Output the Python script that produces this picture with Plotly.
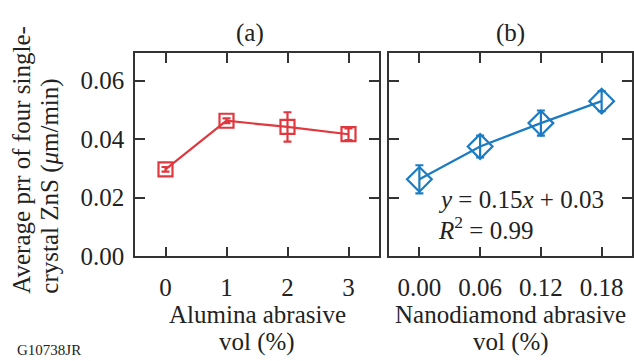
import plotly.graph_objects as go

# Data
alumina_x = [0, 1, 2, 3]
alumina_y = [0.0297, 0.0463, 0.0442, 0.0417]
alumina_err = [0.0008, 0.0008, 0.0050, 0.0020]

nano_x = [0.00, 0.06, 0.12, 0.18]
nano_y = [0.0263, 0.0375, 0.0455, 0.0530]
nano_err = [0.0048, 0.0037, 0.0043, 0.0034]

a_ticks = [0, 1, 2, 3]
b_ticks = [0.00, 0.06, 0.12, 0.18]
b_ticklabels = ["0.00", "0.06", "0.12", "0.18"]
y_ticks = [0.00, 0.02, 0.04, 0.06]
y_ticklabels = ["0.00", "0.02", "0.04", "0.06"]

RED = "#e0383e"
BLUE = "#1c7cc3"
FONT = "Liberation Serif"
W, H = 634, 374
REF_H = 361

def px(x):
    return x / W

def py(y):
    return 1 - y / REF_H

fig = go.Figure()
fig.add_trace(go.Scatter(
    x=alumina_x, y=alumina_y, mode="lines+markers",
    line=dict(color=RED, width=2.2),
    marker=dict(symbol="square-open", size=14, color=RED, line=dict(width=2.2, color=RED)),
    error_y=dict(type="data", array=alumina_err, color=RED, thickness=2.2, width=4),
    xaxis="x", yaxis="y", showlegend=False))
fig.add_trace(go.Scatter(
    x=nano_x, y=nano_y, mode="lines+markers",
    line=dict(color=BLUE, width=2.2),
    marker=dict(symbol="diamond-open", size=19, color=BLUE, line=dict(width=2.2, color=BLUE)),
    error_y=dict(type="data", array=nano_err, color=BLUE, thickness=2.2, width=4),
    xaxis="x2", yaxis="y2", showlegend=False))

axis_common = dict(showline=True, linecolor="#333", linewidth=1.5, mirror="ticks",
                   ticks="inside", ticklen=10, tickwidth=1.5, tickcolor="#333",
                   showgrid=False, zeroline=False,
                   tickfont=dict(family=FONT, size=25, color="#222"))

fig.update_layout(
    width=W, height=H, margin=dict(l=0, r=0, t=0, b=0),
    paper_bgcolor="white", plot_bgcolor="white",
    font=dict(family=FONT, size=25, color="#222"),
    xaxis=dict(domain=[px(135), px(379)], range=[-0.5, 3.5], tickvals=a_ticks,
               ticklabelstandoff=8, anchor="y", **axis_common),
    yaxis=dict(domain=[py(257), py(53)], range=[0, 0.0695], tickvals=y_ticks,
               ticktext=y_ticklabels, ticklabelstandoff=4, anchor="x", **axis_common),
    xaxis2=dict(domain=[px(389), px(632)], range=[-0.03, 0.21], tickvals=b_ticks,
                ticktext=b_ticklabels, ticklabelstandoff=8, anchor="y2", **axis_common),
    yaxis2=dict(domain=[py(257), py(53)], range=[0, 0.0695], tickvals=y_ticks,
                showticklabels=False, anchor="x2", **axis_common),
)

ann = []
def add(text, x, y, xanchor="center", yanchor="middle", size=25, angle=0, align="center"):
    ann.append(dict(text=text, x=px(x), y=py(y), xref="paper", yref="paper",
                    xanchor=xanchor, yanchor=yanchor, showarrow=False, textangle=angle,
                    align=align, font=dict(family=FONT, size=size, color="#222")))

add("(a)", 250, 33)
add("(b)", 510, 33)
add("Alumina abrasive", 257, 315)
add("vol (%)", 257, 343)
add("Nanodiamond abrasive", 510, 315)
add("vol (%)", 511, 343)
add("<i>y</i> = 0.15<i>x</i> + 0.03", 436, 200, xanchor="left")
add("<i>R</i><sup>2</sup> = 0.99", 436, 229, xanchor="left")
add("Average prr of four single-", 22, 297, yanchor="bottom", angle=-90)
add("crystal ZnS (<i>μ</i>m/min)", 50, 297, yanchor="bottom", angle=-90)
add("G10738JR", 15, 361, xanchor="left", yanchor="bottom", size=15)
fig.update_layout(annotations=ann)

post = ("document.documentElement.style.margin='0';"
        "document.body.style.margin='0';document.body.style.overflow='hidden';")

fig.write_html("out.html", config={"displayModeBar": False}, post_script=post)
